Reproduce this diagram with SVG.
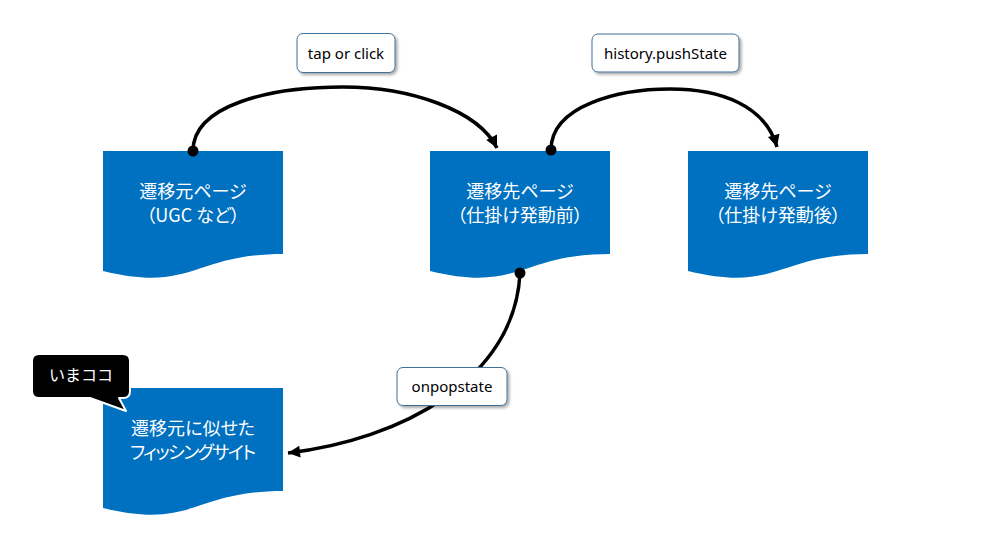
<svg xmlns="http://www.w3.org/2000/svg" width="982" height="550" viewBox="0 0 982 550">
<defs>
<style>
.doc{fill:#0070C0;}
.nt{fill:#fff;font-family:"Noto Sans CJK JP","Noto Sans",sans-serif;font-size:18px;text-anchor:middle;font-feature-settings:"palt";}
.conn{fill:none;stroke:#000;stroke-width:3.5;}
.dot{fill:#000;}
.lbl{fill:#fff;stroke:#41719C;stroke-width:1;filter:url(#sh);}
.lt{fill:#000;font-family:"Noto Sans","Noto Sans CJK JP",sans-serif;font-size:15px;text-anchor:middle;}
</style>
<path id="docshape" d="M0,0 H180 V103 C90,103 90,142 0,120 Z"/>
<marker id="arr" markerUnits="userSpaceOnUse" markerWidth="16" markerHeight="16" viewBox="0 0 16 16" refX="14" refY="8" orient="auto">
<path d="M2,2 L14,8 L2,14 Z" fill="#000"/>
</marker>
<filter id="sh" x="-20%" y="-30%" width="140%" height="170%">
<feDropShadow dx="2" dy="2" stdDeviation="1.5" flood-color="#000" flood-opacity="0.35"/>
</filter>
</defs>
<rect width="982" height="550" fill="#fff"/>

<g id="node-src">
<use href="#docshape" class="doc" x="103" y="151"/>
<text class="nt" x="193" y="198">遷移元ページ</text>
<text class="nt" x="193" y="222">（UGC など）</text>
</g>
<g id="node-dst-before">
<use href="#docshape" class="doc" x="430" y="151"/>
<text class="nt" x="520" y="198">遷移先ページ</text>
<text class="nt" x="520" y="222">（仕掛け発動前）</text>
</g>
<g id="node-dst-after">
<use href="#docshape" class="doc" x="688" y="151"/>
<text class="nt" x="778" y="198">遷移先ページ</text>
<text class="nt" x="778" y="222">（仕掛け発動後）</text>
</g>
<g id="node-phishing">
<use href="#docshape" class="doc" x="103" y="388"/>
<text class="nt" x="193" y="435" textLength="124" lengthAdjust="spacing">遷移元に似せた</text>
<text class="nt" x="193" y="459" textLength="126" lengthAdjust="spacing">フィッシングサイト</text>
</g>

<g id="connectors">
<path class="conn" d="M193,151 C193,105 270,87 343,87 C410,87 478,110 497,148" marker-end="url(#arr)"/>
<circle class="dot" cx="193" cy="151" r="5.5"/>
<path class="conn" d="M551,150 C551,105 620,89 670,89 C720,89 765,105 777,147" marker-end="url(#arr)"/>
<circle class="dot" cx="551" cy="150" r="5.5"/>
<path class="conn" d="M520,273 C515,380 400,440 288,453" marker-end="url(#arr)"/>
<circle class="dot" cx="520" cy="273" r="5.5"/>
</g>

<g id="label-tap">
<rect class="lbl" x="297" y="33.5" width="98" height="39" rx="6"/>
<text class="lt" x="346" y="58.5">tap or click</text>
</g>
<g id="label-pushstate">
<rect class="lbl" x="592" y="34" width="147" height="38" rx="6"/>
<text class="lt" x="665.5" y="58.5">history.pushState</text>
</g>
<g id="label-popstate">
<rect class="lbl" x="397" y="367.5" width="110" height="38" rx="6"/>
<text class="lt" x="452" y="391.5">onpopstate</text>
</g>

<g id="callout-now">
<path d="M39,354 H123 Q130,354 130,361 V391 Q130,398 123,398 H119 L126,411 L90,398 H39 Q32,398 32,391 V361 Q32,354 39,354 Z" fill="#000" stroke="#fff" stroke-width="2" stroke-linejoin="round"/>
<text x="81" y="381" fill="#fff" font-family="Noto Sans CJK JP,sans-serif" font-size="16" text-anchor="middle">いまココ</text>
</g>
</svg>
